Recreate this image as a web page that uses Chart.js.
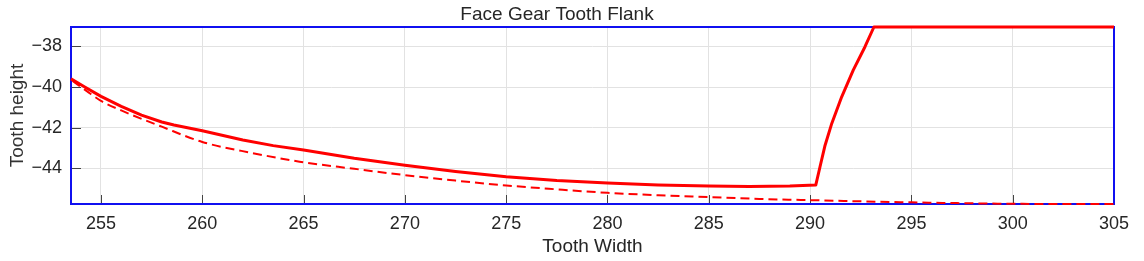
<!DOCTYPE html>
<html><head><meta charset="utf-8">
<script src="https://cdn.jsdelivr.net/npm/chart.js@4.4.1/dist/chart.umd.min.js"></script>
<style>html,body{margin:0;padding:0;background:#fff}#wrap{width:1144px;height:261px}</style>
</head><body><div id="wrap"><canvas id="c" width="1144" height="261"></canvas></div>
<script>
const chartTitle = 'Face Gear Tooth Flank';
const xTitle = 'Tooth Width';
const yTitle = 'Tooth height';
const xTicks = [255, 260, 265, 270, 275, 280, 285, 290, 295, 300, 305];
const yTicks = [-44, -42, -40, -38];
const xRange = [253.52, 305];
const yRange = [-45.75, -37.05];

// solid flank curve
const flankX = [253.52, 254.2, 255, 256, 257, 258, 258.6, 260, 262, 263.5, 265, 267.5, 270, 272.5, 275, 277.5, 280, 282.5, 285, 287, 289, 290.28,
  290.49, 290.74, 291.07, 291.56, 292.13, 292.71, 293.15, 305];
const flankY = [-39.6, -40.0, -40.46, -40.95, -41.38, -41.72, -41.87, -42.15, -42.6, -42.88, -43.1, -43.5, -43.84, -44.15, -44.41, -44.6, -44.72, -44.82, -44.87, -44.89, -44.87, -44.82,
  -43.92, -42.86, -41.79, -40.48, -39.17, -38.02, -37.05, -37.05];

// dashed base curve
const baseX = [253.6, 254.3, 255, 256, 258, 260, 262.5, 264.8, 267.5, 270, 272.5, 275, 277.5, 280, 282.5, 285, 287.5, 290, 292.5, 295, 297.5, 300, 302.5, 305];
const baseY = [-39.7, -40.2, -40.68, -41.15, -41.95, -42.7, -43.25, -43.67, -44.02, -44.33, -44.6, -44.84, -45.03, -45.2, -45.32, -45.41, -45.5, -45.56, -45.62, -45.67, -45.71, -45.74, -45.75, -45.75];

const toPts = (xs, ys) => xs.map((x, i) => ({x: x, y: ys[i]}));

const frame = {
  id: 'frame',
  beforeDatasetsDraw(chart) {
    const {ctx, chartArea: a, scales: {x, y}} = chart;
    ctx.save();
    ctx.strokeStyle = '#444';
    ctx.lineWidth = 1;
    ctx.beginPath();
    xTicks.forEach(v => {
      const px = Math.round(x.getPixelForValue(v)) + 0.5;
      ctx.moveTo(px, a.bottom); ctx.lineTo(px, a.bottom - 9);
    });
    yTicks.forEach(v => {
      const py = Math.round(y.getPixelForValue(v)) + 0.5;
      ctx.moveTo(a.left, py); ctx.lineTo(a.left + 10, py);
    });
    ctx.stroke();
    ctx.strokeStyle = '#1010f0';
    ctx.lineWidth = 2;
    ctx.strokeRect(a.left, a.top, a.right - a.left, a.bottom - a.top);
    ctx.restore();
  }
};

const font = 'Liberation Sans, Arial, Helvetica, sans-serif';

new Chart(document.getElementById('c'), {
  type: 'line',
  data: {
    datasets: [
      {data: toPts(flankX, flankY), borderColor: '#ff0000', borderWidth: 3, pointRadius: 0, tension: 0, borderJoinStyle: 'round', clip: 4, fill: false},
      {data: toPts(baseX, baseY), borderColor: '#ff0000', borderWidth: 2, borderDash: [9, 5], pointRadius: 0, cubicInterpolationMode: 'monotone', clip: 4, fill: false}
    ]
  },
  options: {
    responsive: false,
    animation: false,
    devicePixelRatio: 1,
    layout: {padding: {left: 0, right: 30, top: 0, bottom: 0}},
    plugins: {
      legend: {display: false},
      tooltip: {enabled: false},
      title: {display: true, text: chartTitle, color: '#262626', font: {family: font, size: 19, weight: 'normal'}, padding: {top: 3, bottom: 1.2}}
    },
    scales: {
      x: {
        type: 'linear', min: xRange[0], max: xRange[1],
        afterBuildTicks: s => { s.ticks = xTicks.map(v => ({value: v})); },
        afterFit: s => { s.height = 57; },
        grid: {color: '#e2e2e2', drawTicks: false},
        border: {display: false},
        ticks: {color: '#262626', padding: 9, font: {family: font, size: 18}, maxRotation: 0, autoSkip: false},
        title: {display: true, text: xTitle, color: '#262626', font: {family: font, size: 19}, padding: {top: 0, bottom: 3}}
      },
      y: {
        type: 'linear', min: yRange[0], max: yRange[1],
        afterBuildTicks: s => { s.ticks = yTicks.map(v => ({value: v})); },
        afterFit: s => { s.width = 71; },
        grid: {color: '#e2e2e2', drawTicks: false},
        border: {display: false},
        ticks: {color: '#262626', padding: 9, font: {family: font, size: 18}, autoSkip: false,
          callback: v => String(v).replace('-', '\u2212')},
        title: {display: true, text: yTitle, color: '#333', font: {family: font, size: 19}, padding: {top: 6.5, bottom: 0}}
      }
    }
  },
  plugins: [frame]
});
</script></body></html>
